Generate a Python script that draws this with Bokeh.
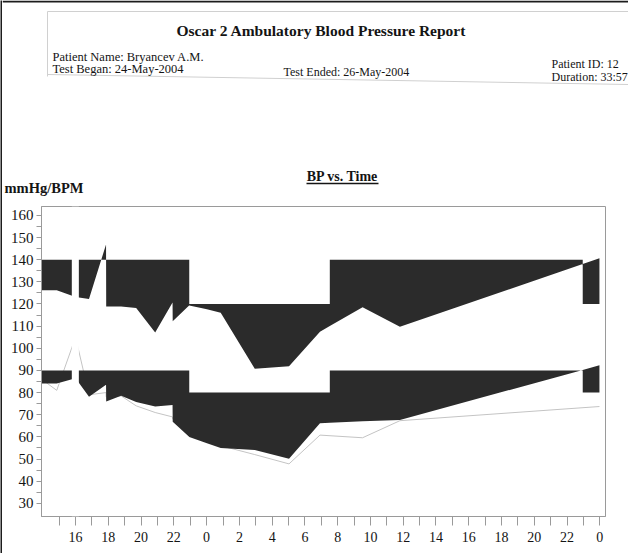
from bokeh.plotting import figure
from bokeh.models import Range1d, FixedTicker, BoxAnnotation
from bokeh.layouts import column, row
from bokeh.core.properties import value
from bokeh.embed import file_html
from bokeh.resources import INLINE

# ---------------- data (hours counted from midnight of 24-May-2004) ----------------
times = [13.93, 14.85, 16.00, 16.82, 17.86, 17.87, 18.78, 19.70, 20.86, 21.92,
         21.93, 22.93, 24.02, 24.86, 26.94, 29.03, 30.92, 33.52, 35.80, 47.98]
systolic = [126.2, 126.2, 123.1, 122.2, 146.9, 118.9, 118.8, 118.2, 107.1, 120.7,
            112.2, 119.3, 117.6, 116.0, 90.8, 91.9, 107.5, 118.5, 109.7, 140.6]
diastolic = [84.1, 84.1, 86.5, 78.1, 83.5, 76.0, 78.6, 75.7, 73.7, 74.4,
             66.8, 60.0, 57.1, 55.0, 54.1, 50.1, 66.2, 67.0, 67.6, 92.3]
heart_rate = [86, 81, 105, 79, 80, 78, 78.5, 74, 71, 69,
              68, 63, 58, 56, 52, 47.8, 60.8, 59.6, 67.3, 73.7]

sys_limits = [140, 120]      # day, night
dia_limits = [90, 80]        # day, night
night_periods = [(22.94, 31.52), (46.96, 49.0)]
scan_gap = [15.77, 16.20]    # blank strip on the scanned page

hour_ticks = [16, 18, 20, 22, 24, 26, 28, 30, 32, 34, 36, 38, 40, 42, 44, 46, 48]
hour_labels = ["16", "18", "20", "22", "0", "2", "4", "6", "8", "10", "12",
               "14", "16", "18", "20", "22", "0"]
hour_minor = [15, 17, 19, 21, 23, 25, 27, 29, 31, 33, 35, 37, 39, 41, 43, 45, 47]
bp_ticks = [30, 40, 50, 60, 70, 80, 90, 100, 110, 120, 130, 140, 150, 160]
bp_minor = [35, 45, 55, 65, 75, 85, 95, 105, 115, 125, 135, 145, 155]

header_texts = ["Oscar 2 Ambulatory Blood Pressure Report",
                "Patient Name:  Bryancev A.M.", "Test Began:  24-May-2004",
                "Test Ended:  26-May-2004", "Patient ID:  12", "Duration:  33:57",
                "mmHg/BPM", "BP vs. Time"]

# ---------------- layout ----------------
PAGE_W = 628
EDGE = 2                       # dark left edge of the scanned sheet
W = PAGE_W - EDGE
HEAD_H = 196
MAIN_H = 357
FL, FR, FT, FB = 41, 605, 206, 516          # frame edges on the page
XL, XR = 13.92, 48.35
YB, YT = 24.05, 164.0
SERIF = "Liberation Serif"
INK = "#141414"
FILL = "#2b2b2b"
GREY = "#9a9a9a"


def limit_at(t, limits):
    for a, b in night_periods:
        if a <= t < b:
            return limits[1]
    return limits[0]


def band(t, v, limits):
    switches = sorted([a for a, b in night_periods] + [b for a, b in night_periods])
    xs, lo, hi = [], [], []
    for i in range(len(t)):
        if i > 0:
            for s in switches:
                if t[i - 1] < s < t[i]:
                    f = (s - t[i - 1]) / (t[i] - t[i - 1])
                    vs = v[i - 1] + f * (v[i] - v[i - 1])
                    xs += [s, s]
                    lo += [limit_at(s - 1e-6, limits), limit_at(s, limits)]
                    hi += [vs, vs]
        xs.append(t[i])
        lo.append(limit_at(t[i], limits))
        hi.append(v[i])
    return xs, lo, hi


# ---------------- dark left edge of the sheet ----------------
edge = figure(width=EDGE, height=HEAD_H + MAIN_H, x_axis_location=None, y_axis_location=None,
              title=None, output_backend="svg", toolbar_location=None, min_border=0)
edge.frame_align = False
edge.grid.visible = False
edge.outline_line_color = None
edge.background_fill_color = "#1c1c1c"
edge.border_fill_color = "#1c1c1c"

# ---------------- header (page texts) ----------------
hf = figure(width=W, height=HEAD_H, x_range=Range1d(EDGE, PAGE_W), y_range=Range1d(HEAD_H, 0),
            x_axis_location=None, y_axis_location=None, title=None,
            output_backend="svg", toolbar_location=None, min_border=0)
hf.frame_align = False
hf.grid.visible = False
hf.outline_line_color = None
hf.background_fill_color = "white"
hf.border_fill_color = "white"

# top edge of the sheet and faint box of the report header
hf.line([EDGE, PAGE_W], [1, 1], line_color="#1c1c1c", line_width=2)
hf.line([47, PAGE_W], [11, 11], line_color="#d0d0d0", line_width=1)
hf.line([47, 47], [11, 76], line_color="#d0d0d0", line_width=1)
hf.line([47, PAGE_W], [74, 84], line_color="#d0d0d0", line_width=1)


def head_text(x, y, txt, size, bold=False, align="left"):
    hf.text(x=[x], y=[y], text=[txt], text_font=value(SERIF), text_font_size=value(size),
            text_font_style="bold" if bold else "normal", text_align=align,
            text_baseline="middle", text_color=INK)


head_text(321, 30, header_texts[0], "15.5px", bold=True, align="center")
head_text(52, 56, header_texts[1], "12.5px")
head_text(52, 68, header_texts[2], "12.5px")
head_text(283, 71, header_texts[3], "12px")
head_text(551, 63, header_texts[4], "12px")
head_text(551, 76, header_texts[5], "12px")
head_text(4, 187, header_texts[6], "14.5px", bold=True)
head_text(342, 176, header_texts[7], "14px", bold=True, align="center")
hf.segment(x0=[306], y0=[183], x1=[378], y1=[183], line_color=INK, line_width=1.5)

# ---------------- chart ----------------
p = figure(width=W, height=MAIN_H, x_range=Range1d(XL, XR), y_range=Range1d(YB, YT),
           output_backend="svg", toolbar_location=None, title=None,
           min_border_left=FL - EDGE, min_border_right=PAGE_W - FR,
           min_border_top=FT - HEAD_H, min_border_bottom=MAIN_H - (FB - HEAD_H))
p.frame_align = False
p.xgrid.visible = False
p.ygrid.visible = False
p.background_fill_color = "white"
p.border_fill_color = "white"
p.outline_line_color = GREY
p.outline_line_width = 1

# heart rate (thin grey line, behind the bands)
p.line(times, heart_rate, line_color="#c4c4c4", line_width=1)

sx, slo, shi = band(times, systolic, sys_limits)
p.varea(x=sx, y1=slo, y2=shi, fill_color=FILL, fill_alpha=1)
dx_, dlo, dhi = band(times, diastolic, dia_limits)
p.varea(x=dx_, y1=dlo, y2=dhi, fill_color=FILL, fill_alpha=1)

xa = p.xaxis[0]
xa.ticker = FixedTicker(ticks=hour_ticks, minor_ticks=hour_minor)
xa.major_label_overrides = {h: lab for h, lab in zip(hour_ticks, hour_labels)}
xa.major_tick_in = 0
xa.major_tick_out = 9
xa.minor_tick_in = 0
xa.minor_tick_out = 9
xa.major_label_standoff = 6
xa.major_label_text_font = SERIF
xa.major_label_text_font_size = "14px"
xa.major_label_text_color = INK
xa.axis_line_color = GREY
xa.major_tick_line_color = GREY
xa.minor_tick_line_color = GREY

ya = p.yaxis[0]
ya.ticker = FixedTicker(ticks=bp_ticks, minor_ticks=bp_minor)
ya.major_tick_in = 0
ya.major_tick_out = 5
ya.minor_tick_in = 0
ya.minor_tick_out = 5
ya.major_label_standoff = 3
ya.major_label_text_font = SERIF
ya.major_label_text_font_size = "15px"
ya.major_label_text_color = INK
ya.axis_line_color = GREY
ya.major_tick_line_color = GREY
ya.minor_tick_line_color = GREY

# blank strip of the scan
p.add_layout(BoxAnnotation(left=scan_gap[0], right=scan_gap[1], fill_color="white",
                           fill_alpha=1, line_alpha=0, level="overlay"))

page = row(edge, column(hf, p))
open("out.html", "w").write(file_html(page, INLINE))
